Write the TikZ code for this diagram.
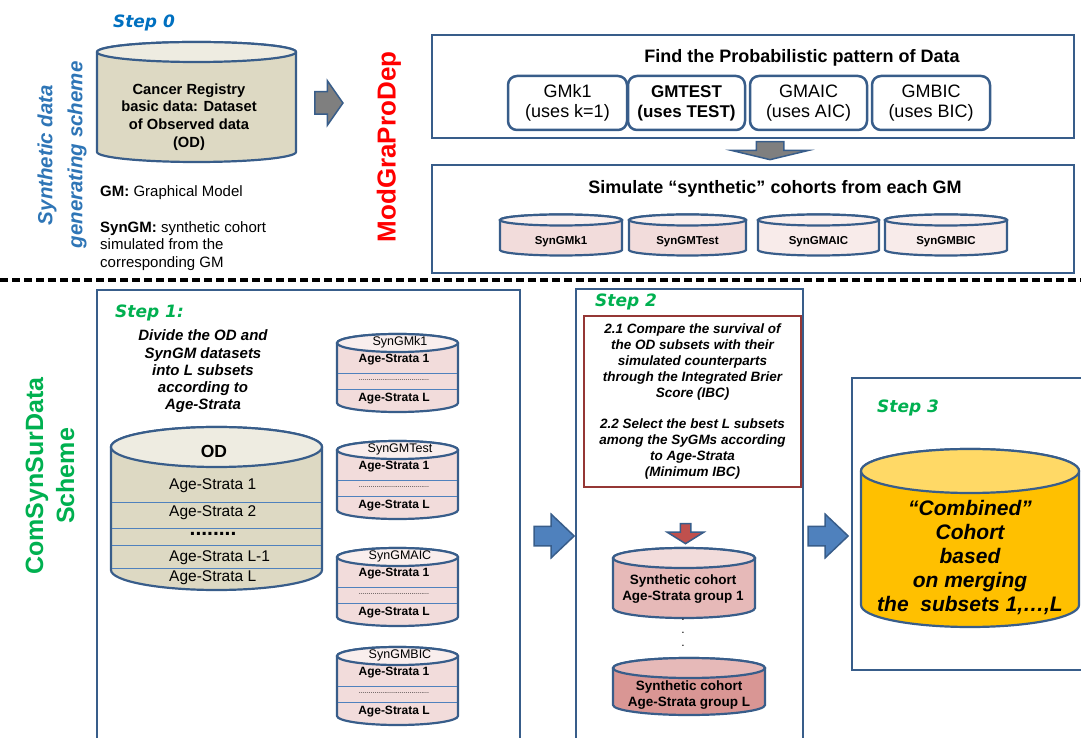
\documentclass[tikz,border=0pt]{standalone}
\usepackage{fontspec}
\setmainfont{Liberation Sans}
\newfontfamily\stepfont{DejaVu Sans}[BoldFont={DejaVu Sans Bold},ItalicFont={DejaVu Sans Oblique},BoldItalicFont={DejaVu Sans Bold Oblique}]
\usetikzlibrary{shapes.arrows}

\definecolor{bordblue}{HTML}{385D8A}
\definecolor{stripe}{HTML}{4F81BD}
\definecolor{odbody}{HTML}{DDD9C3}
\definecolor{odlid}{HTML}{EEECE1}
\definecolor{pinkbody}{HTML}{F2DCDB}
\definecolor{pinklid}{HTML}{F9EEED}
\definecolor{palebody}{HTML}{F8EBEA}
\definecolor{rosebody}{HTML}{E6B9B8}
\definecolor{darkrose}{HTML}{D99694}
\definecolor{gold}{HTML}{FFC000}
\definecolor{goldlid}{HTML}{FFD966}
\definecolor{stepblue}{HTML}{0070C0}
\definecolor{schemeblue}{HTML}{2E75B6}
\definecolor{stepgreen}{HTML}{00B050}
\definecolor{boxred}{HTML}{953735}
\definecolor{arrowblue}{HTML}{4F81BD}
\definecolor{arrowgray}{HTML}{7F7F7F}
\definecolor{arrowred}{HTML}{C0504D}

\newcommand{\fsz}[2]{\fontsize{#1}{#2}\selectfont}
% cylinder: left x, right x, top centre y, bottom centre y, y radius, body, lid
\newcommand{\drum}[7]{%
  \filldraw[cyl, fill=#6] (#1,#3) -- (#1,#4)
    arc[start angle=180, end angle=360, x radius={(#2-#1)/2}, y radius=#5]
    -- (#2,#3)
    arc[start angle=0, end angle=180, x radius={(#2-#1)/2}, y radius=#5] -- cycle;
  \filldraw[cyl, fill=#7] ({(#1+#2)/2},#3) ellipse [x radius={(#2-#1)/2}, y radius=#5];
}

\begin{document}
\begin{tikzpicture}[x=1pt, y=1pt,
  panel/.style={draw=bordblue, line width=2.5pt},
  cyl/.style={draw=bordblue, line width=2.2pt},
  strata/.style={stripe, line width=0.8pt},
  gmbox/.style={draw=bordblue, line width=2.5pt, rounded corners=9pt, minimum height=54pt, inner sep=0pt, align=center, font={\fsz{18}{20}}},
  steplabel/.style={font={\stepfont\bfseries\itshape\fsz{17}{20}}, inner sep=0pt},
  blockarrow/.style={single arrow, draw=bordblue, line width=1.5pt, inner xsep=0pt}]
\useasboundingbox (0,0) rectangle (1081,737);
\clip (0,0) rectangle (1081,737);
% ---
% Step 0
% ---
\node[steplabel, text=stepblue] (step0) at (144,714) {Step 0};
\node[rotate=90, text=schemeblue, align=center, font={\bfseries\itshape\fsz{20.5}{30}}] (scheme0) at (62,582) {Synthetic data\\generating scheme};
\drum{97}{296}{685}{585}{10}{odbody}{odlid}
\node[align=center, font={\bfseries\fsz{14.7}{17.7}}] (odtext) at (189,620) {Cancer Registry\\basic data: Dataset\\of Observed data\\(OD)};
\node[anchor=west, inner sep=0pt, font={\fsz{15}{17.5}}] (gmnote) at (100,544) {\textbf{GM:} Graphical Model};
\node[anchor=west, inner sep=0pt, align=left, font={\fsz{15}{17.5}}] (synnote) at (100,491) {\textbf{SynGM:} synthetic cohort\\simulated from the\\corresponding GM};
\node[blockarrow, fill=arrowgray, inner ysep=10.5pt, minimum height=28, minimum width=43, single arrow head extend=11, single arrow tip angle=110] (arr0) at (325,634) {};
\node[rotate=90, text=red, font={\bfseries\fsz{26}{30}}] (modgra) at (389,590) {ModGraProDep};
% ---
% ModGraProDep boxes
% ---
\draw[panel] (432,702) rectangle (1074,599);
\node[font={\bfseries\fsz{18}{20}}] (findtitle) at (802,679) {Find the Probabilistic pattern of Data};
\node[gmbox, minimum width=119] (gmk1) at (567.5,634) {GMk1\\(uses k=1)};
\node[gmbox, minimum width=117, font={\bfseries\fsz{17}{20}}] (gmtest) at (686.5,634) {GMTEST\\(uses TEST)};
\node[gmbox, minimum width=117] (gmaic) at (808.5,634) {GMAIC\\(uses AIC)};
\node[gmbox, minimum width=118] (gmbic) at (931,634) {GMBIC\\(uses BIC)};
\node[blockarrow, fill=arrowgray, rotate=-90, inner ysep=13pt, minimum height=18, minimum width=75, single arrow head extend=24.5, single arrow tip angle=153] (arr1) at (770,588) {};
\draw[panel] (432,572) rectangle (1074,464);
\node[font={\bfseries\fsz{18}{20}}] (simtitle) at (775,548) {Simulate “synthetic” cohorts from each GM};
\drum{500}{622}{517}{487}{5.5}{pinkbody}{pinklid}
\drum{629}{746}{517}{487}{5.5}{pinkbody}{pinklid}
\drum{758}{879}{517}{487}{5.5}{palebody}{pinklid}
\drum{885}{1007}{517}{487}{5.5}{palebody}{pinklid}
\node[font={\bfseries\fsz{11.5}{14}}] (synk1) at (561,495) {SynGMk1};
\node[font={\bfseries\fsz{11.5}{14}}] (syntest) at (687.5,495) {SynGMTest};
\node[font={\bfseries\fsz{11.5}{14}}] (synaic) at (818.5,495) {SynGMAIC};
\node[font={\bfseries\fsz{11.5}{14}}] (synbic) at (946,495) {SynGMBIC};
% separation
\draw[line width=4pt, dash pattern=on 8pt off 4pt] (0,457) -- (1081,457);
% ---
% Step 1
% ---
\node[rotate=90, text=stepgreen, align=center, font={\bfseries\fsz{25}{31}}] (scheme1) at (50,261) {ComSynSurData\\Scheme};
\draw[panel] (97,-5) rectangle (520,447);
\node[steplabel, text=stepgreen, anchor=west] (step1) at (115,424) {Step 1:};
\node[align=center, font={\bfseries\itshape\fsz{15}{17.3}}] (divide) at (203,365.5) {Divide the OD and\\SynGM datasets\\into L subsets\\according to\\Age-Strata};
\drum{111}{322}{290}{167}{20}{odbody}{odlid}
\foreach \yy in {235,209,192,169}
  \draw[strata] (112,\yy) -- (321,\yy);
\node[font={\bfseries\fsz{17.5}{20}}] (odhead) at (214,286) {OD};
\node[anchor=west, inner sep=0pt, font={\fsz{15.5}{18}}] (odfirst) at (169,251) {Age-Strata 1};
\node[anchor=west, inner sep=0pt, font={\fsz{15.5}{18}}] (odsecond) at (169,224) {Age-Strata 2};
\node[inner sep=0pt, font={\bfseries\fsz{21}{22}}] (oddots) at (213,203) {........};
\node[anchor=west, inner sep=0pt, font={\fsz{15.5}{18}}] (odlm1) at (169,179) {Age-Strata L-1};
\node[anchor=west, inner sep=0pt, font={\fsz{15.5}{18}}] (odlast) at (169,159) {Age-Strata L};
\foreach \t/\nm/\ttl in {334/k1/SynGMk1, 441/test/SynGMTest, 548/aic/SynGMAIC, 647/bic/SynGMBIC} {
  \drum{337}{458}{737-\t-9}{737-\t-69}{9}{pinkbody}{pinklid}
  \draw[strata] (338,737-\t-39) -- (457,737-\t-39);
  \draw[strata] (338,737-\t-55) -- (457,737-\t-55);
  \node[font={\fsz{12.5}{14}}] (title\nm) at (400,737-\t-8) {\ttl};
  \node[font={\bfseries\fsz{12}{14}}] (first\nm) at (394,737-\t-26) {Age-Strata 1};
  \node[font={\fsz{7}{8}}] (dots\nm) at (394,737-\t-46) {....................................};
  \node[font={\bfseries\fsz{12}{14}}] (last\nm) at (394,737-\t-65) {Age-Strata L};
}
\node[blockarrow, fill=arrowblue, inner ysep=9pt, minimum height=40, minimum width=42, single arrow head extend=12, single arrow tip angle=87] (arr2) at (549,201) {};
% ---
% Step 2
% ---
\draw[panel] (576,-5) rectangle (803,448);
\node[steplabel, text=stepgreen, anchor=west] (step2) at (595,435) {Step 2};
\node[draw=boxred, line width=2.5pt, minimum width=217, minimum height=171, inner sep=0pt, align=center, font={\bfseries\itshape\fsz{13.5}{15.8}}] (compare) at (692.5,335.5) {2.1 Compare the survival of\\the OD subsets with their\\simulated counterparts\\through the Integrated Brier\\Score (IBC)\\[15.8pt]2.2 Select the best L subsets\\among the SyGMs according\\to Age-Strata\\(Minimum IBC)};
\node[blockarrow, fill=arrowred, rotate=-90, inner ysep=4.5pt, minimum height=20, minimum width=35, single arrow head extend=13, single arrow tip angle=116] (arr3) at (685.5,205) {};
\drum{613}{755}{179}{129}{10}{rosebody}{pinkbody}
\node[align=center, font={\bfseries\fsz{13.5}{16}}] (groupfirst) at (683,148) {Synthetic cohort\\Age-Strata group 1};
\node[align=center, font={\fsz{12}{13}}] (groupdots) at (683,104) {.\\.\\.};
\drum{613}{765}{69}{32}{10}{darkrose}{rosebody}
\node[align=center, font={\bfseries\fsz{13.5}{16}}] (grouplast) at (689,41.5) {Synthetic cohort\\Age-Strata group L};
\node[blockarrow, fill=arrowblue, inner ysep=9pt, minimum height=40, minimum width=42, single arrow head extend=12, single arrow tip angle=87] (arr4) at (823,201) {};
% ---
% Step 3
% ---
\draw[panel] (852,67) rectangle (1095,359);
\node[steplabel, text=stepgreen, anchor=west] (step3) at (877,329) {Step 3};
\drum{861}{1079}{266}{132}{22}{gold}{goldlid}
\node[align=center, font={\bfseries\itshape\fsz{21}{24}}] (combined) at (970,179) {“Combined”\\Cohort\\based\\on merging\\the\ \ subsets 1,…,L};
\end{tikzpicture}
\end{document}
